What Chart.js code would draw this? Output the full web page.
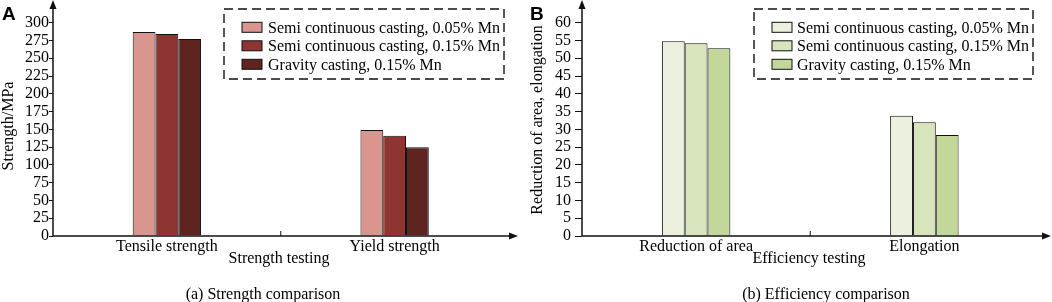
<!DOCTYPE html>
<html>
<head>
<meta charset="utf-8">
<script src="https://cdn.jsdelivr.net/npm/chart.js@4"></script>
<style>
  html, body { margin: 0; padding: 0; background: #fff; }
  .panel { position: absolute; top: 0; width: 526px; height: 302px; }
</style>
</head>
<body>
<div class="panel" style="left:0"><canvas id="chartA"></canvas></div>
<div class="panel" style="left:526px"><canvas id="chartB"></canvas></div>
<script>
// data
var seriesNames = [
  'Semi continuous casting, 0.05% Mn',
  'Semi continuous casting, 0.15% Mn',
  'Gravity casting, 0.15% Mn'
];
var strengthCategories = ['Tensile strength', 'Yield strength'];
var strengthSemi005 = [287, 149];
var strengthSemi015 = [284, 141];
var strengthGravity = [277, 125];
var strengthTicks = { max: 300, step: 25 };

var efficiencyCategories = ['Reduction of area', 'Elongation'];
var efficiencySemi005 = [54.8, 33.8];
var efficiencySemi015 = [54.2, 32.0];
var efficiencyGravity = [52.8, 28.4];
var efficiencyTicks = { max: 60, step: 5 };

var redColors = ['#d9958e', '#8e3531', '#5f2320'];
var greenColors = ['#ebf1de', '#d8e4bc', '#c4d79b'];

var serif = "'Liberation Serif', 'Times New Roman', serif";

// draws axes with arrows, legend box, titles
var decorPlugin = {
  id: 'decor',
  afterDraw: function (chart) {
    var o = chart.options.plugins.decor;
    var ctx = chart.ctx;
    var a = chart.chartArea;
    var xs = chart.scales.x;
    ctx.save();
    ctx.strokeStyle = '#111';
    ctx.fillStyle = '#111';
    ctx.lineWidth = 1.5;
    // y axis + arrow
    ctx.beginPath();
    ctx.moveTo(a.left, a.bottom);
    ctx.lineTo(a.left, 6);
    ctx.stroke();
    ctx.beginPath();
    ctx.moveTo(a.left, 0);
    ctx.lineTo(a.left - 3.5, 9);
    ctx.lineTo(a.left + 3.5, 9);
    ctx.closePath();
    ctx.fill();
    // x axis + arrow
    ctx.beginPath();
    ctx.moveTo(a.left, a.bottom);
    ctx.lineTo(o.arrowX - 5, a.bottom);
    ctx.stroke();
    ctx.beginPath();
    ctx.moveTo(o.arrowX, a.bottom);
    ctx.lineTo(o.arrowX - 9, a.bottom - 3.5);
    ctx.lineTo(o.arrowX - 9, a.bottom + 3.5);
    ctx.closePath();
    ctx.fill();
    // inner tick between categories
    ctx.lineWidth = 1;
    for (var i = 1; i < xs.ticks.length; i++) {
      var bx = (xs.getPixelForValue(i - 1) + xs.getPixelForValue(i)) / 2;
      ctx.beginPath();
      ctx.moveTo(bx, a.bottom);
      ctx.lineTo(bx, a.bottom - 5);
      ctx.stroke();
    }
    // legend
    var lg = o.legend;
    ctx.setLineDash([9, 5]);
    ctx.lineWidth = 1.4;
    ctx.strokeStyle = '#111';
    ctx.strokeRect(lg.x, lg.y, lg.w, lg.h);
    ctx.setLineDash([]);
    ctx.font = '16px ' + serif;
    ctx.textBaseline = 'middle';
    ctx.textAlign = 'left';
    chart.data.datasets.forEach(function (ds, k) {
      var cy = lg.rowY + k * lg.rowGap;
      ctx.fillStyle = ds.backgroundColor;
      ctx.fillRect(lg.swatchX, cy - 5, 20, 10);
      ctx.lineWidth = 1;
      ctx.strokeStyle = '#111';
      ctx.strokeRect(lg.swatchX, cy - 5, 20, 10);
      ctx.fillStyle = '#000';
      ctx.fillText(ds.label, lg.textX, cy + 1);
    });
    // titles
    ctx.fillStyle = '#000';
    ctx.textAlign = 'center';
    ctx.fillText(o.xTitle, o.xTitleX, 259);
    ctx.fillText(o.caption, o.captionX, 295);
    ctx.save();
    ctx.translate(o.yTitleX, o.yTitleY);
    ctx.rotate(-Math.PI / 2);
    ctx.fillText(o.yTitle, 0, 0);
    ctx.restore();
    ctx.font = 'bold 19px "Liberation Sans", Arial, sans-serif';
    ctx.textAlign = 'left';
    ctx.textBaseline = 'alphabetic';
    ctx.fillText(o.letter, o.letterX, 20);
    ctx.restore();
  }
};

function makeDatasets(values, colors) {
  return values.map(function (v, k) {
    return {
      label: seriesNames[k],
      data: v,
      backgroundColor: colors[k],
      borderColor: '#111',
      borderWidth: 1,
      categoryPercentage: 0.3,
      barPercentage: 1.0
    };
  });
}

function makeChart(id, categories, values, colors, ticks, axisWidth, rightPad, tickLen, tickPad, decor) {
  return new Chart(document.getElementById(id).getContext('2d'), {
    type: 'bar',
    data: { labels: categories, datasets: makeDatasets(values, colors) },
    plugins: [decorPlugin],
    options: {
      responsive: true,
      maintainAspectRatio: false,
      animation: false,
      layout: { padding: { left: 0, right: rightPad, top: 22.7, bottom: 0 } },
      plugins: {
        legend: { display: false },
        tooltip: { enabled: false },
        decor: decor
      },
      scales: {
        x: {
          grid: { display: false, drawTicks: false },
          border: { display: false },
          ticks: { color: '#000', font: { family: serif, size: 16 }, padding: 1, maxRotation: 0 },
          afterFit: function (s) { s.height = 66; }
        },
        y: {
          min: 0,
          max: ticks.max,
          grid: { display: true, drawOnChartArea: false, drawTicks: true, tickLength: tickLen, color: '#111' },
          border: { display: false },
          ticks: { stepSize: ticks.step, autoSkip: false, color: '#000', font: { family: serif, size: 16 }, padding: tickPad },
          afterFit: function (s) { s.width = axisWidth; }
        }
      }
    }
  });
}

makeChart('chartA', strengthCategories,
  [strengthSemi005, strengthSemi015, strengthGravity], redColors, strengthTicks,
  53, 17.5, 4, 0, {
    arrowX: 518,
    legend: { x: 224, y: 9, w: 280, h: 70, swatchX: 242, textX: 268, rowY: 27.3, rowGap: 18.5 },
    xTitle: 'Strength testing', xTitleX: 279,
    caption: '(a) Strength comparison', captionX: 263,
    yTitle: 'Strength/MPa', yTitleX: 8.5, yTitleY: 126,
    letter: 'A', letterX: 2
  });

makeChart('chartB', efficiencyCategories,
  [efficiencySemi005, efficiencySemi015, efficiencyGravity], greenColors, efficiencyTicks,
  56, 13.5, 7, 4, {
    arrowX: 525,
    legend: { x: 228, y: 9, w: 279, h: 70, swatchX: 246, textX: 271, rowY: 27.3, rowGap: 18.5 },
    xTitle: 'Efficiency testing', xTitleX: 283,
    caption: '(b) Efficiency comparison', captionX: 300,
    yTitle: 'Reduction of area, elongation', yTitleX: 11.5, yTitleY: 120,
    letter: 'B', letterX: 4
  });
</script>
</body>
</html>
